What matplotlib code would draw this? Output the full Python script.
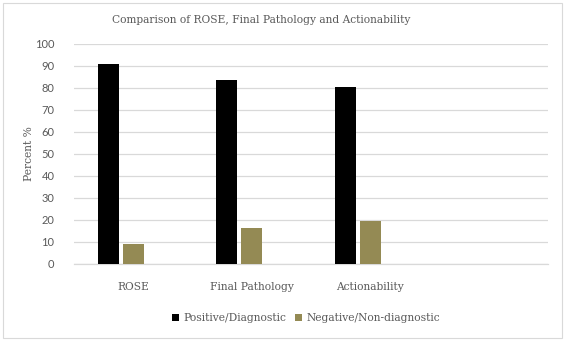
import matplotlib
matplotlib.use("Agg")
import matplotlib.pyplot as plt
from matplotlib.patches import Rectangle, Patch
import numpy as np

categories = ["ROSE", "Final Pathology", "Actionability", ""]
positive = [91, 83.6, 80.5, np.nan]
negative = [9, 16.4, 19.5, np.nan]
series_names = ["Positive/Diagnostic", "Negative/Non-diagnostic"]
yticks = [0, 10, 20, 30, 40, 50, 60, 70, 80, 90, 100]

W, H = 565, 341
fig = plt.figure(figsize=(W / 100, H / 100), dpi=100)
fig.patch.set_facecolor("white")
fig.add_artist(Rectangle((2.5 / W, 3 / H), 559 / W, 335.5 / H, transform=fig.transFigure,
                         fill=False, edgecolor="#D9D9D9", linewidth=0.8))

left, right, bottom, top = 74, 548, 264, 44
ax = fig.add_axes([left / W, (H - bottom) / H, (right - left) / W, (bottom - top) / H])

serif = "DejaVu Serif"
grey = "#595959"
black = "#000000"
olive = "#948A54"

x = np.arange(len(categories))
bw = 0.178
step = 0.212
ax.bar(x - step, positive, width=bw, color=black, zorder=3)
ax.bar(x, negative, width=bw, color=olive, zorder=3)

ax.set_xlim(-0.5, len(categories) - 0.5)
ax.set_ylim(0, 100)
ax.set_yticks(yticks)
ax.set_yticklabels([str(t) for t in yticks], fontfamily="Lato", fontsize=8, color=grey)
ax.set_xticks(x)
ax.set_xticklabels(categories, fontfamily=serif, fontsize=7.7, color=grey)
ax.tick_params(axis="both", length=0)
ax.tick_params(axis="x", pad=13)
ax.tick_params(axis="y", pad=14)
ax.yaxis.grid(True, color="#D9D9D9", linewidth=0.9, zorder=0)
for s in ["top", "right", "left"]:
    ax.spines[s].set_visible(False)
ax.spines["bottom"].set_color("#D9D9D9")
ax.spines["bottom"].set_linewidth(0.9)

ax.set_ylabel("Percent %", fontfamily=serif, fontsize=7.7, color=grey, labelpad=1)

fig.text(261 / W, 1 - 20 / H, "Comparison of ROSE, Final Pathology and Actionability",
         ha="center", va="center", fontfamily=serif, fontsize=7.7, color=grey)

handles = [Patch(facecolor=black, edgecolor="none"), Patch(facecolor=olive, edgecolor="none")]
leg = fig.legend(handles, series_names, loc="center", bbox_to_anchor=(306 / W, 1 - 318 / H),
                 ncol=2, frameon=False, prop={"family": serif, "size": 7.7},
                 handlelength=0.7, handleheight=0.7, handletextpad=0.4, columnspacing=0.8)
for t in leg.get_texts():
    t.set_color(grey)

fig.savefig("out.png", dpi=100, facecolor="white")
